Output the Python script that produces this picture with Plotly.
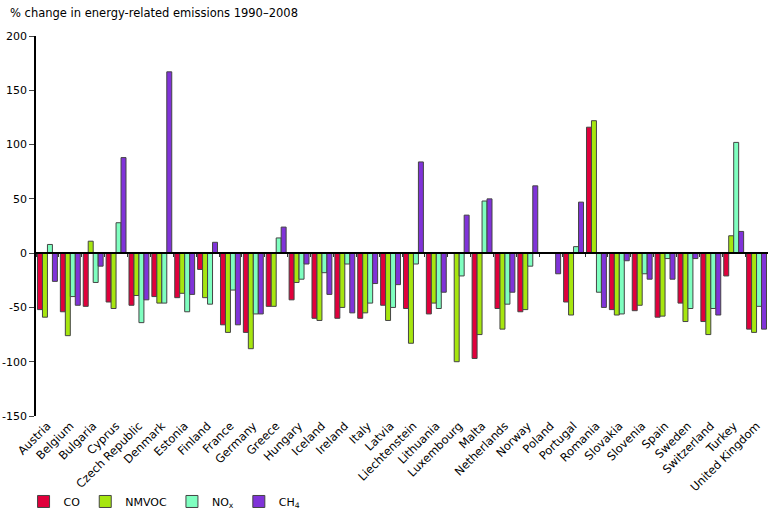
import plotly.graph_objects as go

countries = ["Austria", "Belgium", "Bulgaria", "Cyprus", "Czech Republic", "Denmark",
             "Estonia", "Finland", "France", "Germany", "Greece", "Hungary", "Iceland",
             "Ireland", "Italy", "Latvia", "Liechtenstein", "Lithuania", "Luxembourg",
             "Malta", "Netherlands", "Norway", "Poland", "Portugal", "Romania", "Slovakia",
             "Slovenia", "Spain", "Sweden", "Switzerland", "Turkey", "United Kingdom"]

co = [-52, -54, -49, -45, -48, -40, -41, -15, -66, -73, -49, -43, -60, -60, -60, -48,
      -51, -56, None, -97, -51, -54, None, -45, 116, -52, -53, -59, -46, -63, -21, -70]
nmvoc = [-59, -76, 11, -51, -39, -46, -37, -41, -73, -88, -49, -27, -62, -50, -55, -62,
         -83, -46, -100, -75, -70, -52, None, -57, 122, -57, -48, -58, -63, -75, 16, -73]
nox = [8, -40, -27, 28, -64, -46, -54, -47, -34, -56, 14, -24, -18, -10, -46, -50,
       -10, -51, -21, 48, -47, -12, None, 6, -36, -56, -19, -5, -51, -51, 102, -49]
ch4 = [-26, -48, -12, 88, -43, 167, -38, 10, -66, -56, 24, -10, -38, -55, -28, -29,
       84, -36, 35, 50, -36, 62, -19, 47, -50, -7, -24, -24, -5, -57, 20, -70]

series = [("CO", co, "#E0003C"),
          ("NMVOC", nmvoc, "#A6E60F"),
          ("NO<sub>x</sub>", nox, "#7FFFC0"),
          ("CH<sub>4</sub>", ch4, "#8033D9")]

y_ticks = [200, 150, 100, 50, 0, -50, -100, -150]
y_labels = [str(v) for v in y_ticks]

fig = go.Figure()
for name, vals, col in series:
    fig.add_trace(go.Bar(x=countries, y=vals, name=name,
                         marker=dict(color=col, line=dict(color="#444444", width=1))))

# invisible trace to carry the zero-line category axis with tick marks
fig.add_trace(go.Scatter(x=countries, y=[None] * len(countries), xaxis="x2",
                         showlegend=False, hoverinfo="skip"))

ymin, ymax = -150, 200
L, R, T, B = 36, 0, 36, 95
pw = 768 - L - R
ph = 511 - T - B
fig.update_layout(
    width=768, height=511,
    margin=dict(l=L, r=R, t=T, b=B, autoexpand=False),
    paper_bgcolor="white", plot_bgcolor="white",
    font=dict(family="DejaVu Sans", size=11, color="#000000"),
    barmode="group", bargap=0.13, bargroupgap=0,
    xaxis=dict(showline=False, ticks="", tickangle=-45, showgrid=False,
               tickfont=dict(size=11.5), zeroline=False, automargin=False),
    xaxis2=dict(overlaying="x", matches="x", anchor="free",
                position=(0 - ymin) / (ymax - ymin),
                showline=True, linecolor="black", linewidth=1.5,
                ticks="outside", tickson="boundaries", ticklen=3, tickcolor="#333",
                showticklabels=False, showgrid=False, automargin=False),
    yaxis=dict(range=[ymin, ymax], tickvals=y_ticks, ticktext=y_labels,
               showline=True, linecolor="black",
               linewidth=1.5, ticks="outside", ticklen=5, showgrid=False, zeroline=False,
               tickfont=dict(size=11), automargin=False),
    legend=dict(orientation="h", x=-0.017, y=0.047, yref="container",
                xanchor="left", yanchor="top",
                font=dict(size=11), itemwidth=30, traceorder="normal"),
    annotations=[dict(text="% change in energy-related emissions 1990–2008",
                      xref="paper", yref="paper", x=-(L - 8) / pw, y=1 + 14 / ph,
                      xanchor="left", yanchor="bottom", showarrow=False,
                      font=dict(size=11.5))],
)

fig.write_html("out.html", config={"displayModeBar": False},
               post_script="document.body.style.margin='0';document.body.style.overflow='hidden';")
